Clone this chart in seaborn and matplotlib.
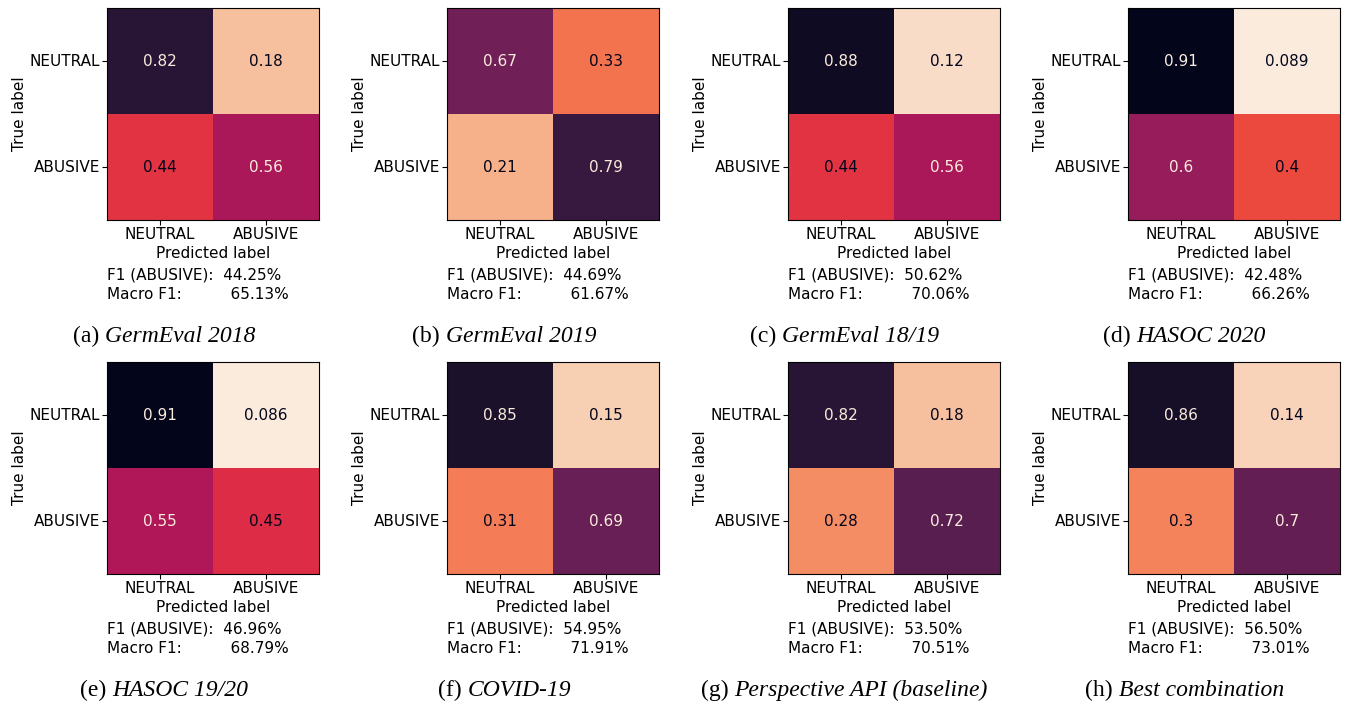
import numpy as np
import matplotlib
matplotlib.use("Agg")
import matplotlib.pyplot as plt
import seaborn as sns

# class labels (rows = true, columns = predicted)
classes = ["NEUTRAL", "ABUSIVE"]

# row-normalised confusion matrices, one per dataset
germeval_2018 = [[0.82, 0.18], [0.44, 0.56]]
germeval_2019 = [[0.67, 0.33], [0.21, 0.79]]
germeval_1819 = [[0.88, 0.12], [0.44, 0.56]]
hasoc_2020 = [[0.91, 0.089], [0.6, 0.4]]
hasoc_1920 = [[0.91, 0.086], [0.55, 0.45]]
covid_19 = [[0.85, 0.15], [0.31, 0.69]]
perspective_api = [[0.82, 0.18], [0.28, 0.72]]
best_combination = [[0.86, 0.14], [0.3, 0.7]]

matrices = [germeval_2018, germeval_2019, germeval_1819, hasoc_2020,
            hasoc_1920, covid_19, perspective_api, best_combination]

tags = ["(a)", "(b)", "(c)", "(d)", "(e)", "(f)", "(g)", "(h)"]
names = ["GermEval 2018", "GermEval 2019", "GermEval 18/19", "HASOC 2020",
         "HASOC 19/20", "COVID-19", "Perspective API (baseline)", "Best combination"]

f1_abusive = [44.25, 44.69, 50.62, 42.48, 46.96, 54.95, 53.50, 56.50]
macro_f1 = [65.13, 61.67, 70.06, 66.26, 68.79, 71.91, 70.51, 73.01]

plt.rcParams["font.family"] = ["DejaVu Sans"]

W, H = 1346, 703
fig = plt.figure(figsize=(W / 100, H / 100), dpi=100)

cmap = sns.color_palette("rocket_r", as_cmap=True)
light, dark = cmap(0.0), cmap(1.0)
# one colour scale shared by all panels
vmin = min(np.min(m) for m in matrices)
vmax = max(np.max(m) for m in matrices)

lefts = [107, 447, 788, 1128]
tops = [8, 362]
size = 212
caption_base = [342, 696]

renderer = fig.canvas.get_renderer()

for i, cm in enumerate(matrices):
    row, col = divmod(i, 4)
    ax = fig.add_axes([lefts[col] / W, 1 - (tops[row] + size) / H, size / W, size / H])
    sns.heatmap(np.array(cm), ax=ax, cmap=cmap, vmin=vmin, vmax=vmax, cbar=False,
                annot=True, fmt=".2g", annot_kws={"fontsize": 11},
                xticklabels=classes, yticklabels=classes)

    # light text on dark cells, dark text on light cells
    for t in ax.texts:
        t.set_color(light if float(t.get_text()) >= 0.5 else dark)

    for s in ax.spines.values():
        s.set_visible(True)
        s.set_color("black")
        s.set_linewidth(0.8)

    ax.tick_params(labelsize=11, length=3.5, width=0.8)
    ax.tick_params(axis="x", pad=1.5)
    ax.tick_params(axis="y", pad=1.5)
    plt.setp(ax.get_yticklabels(), rotation=0, va="center")
    plt.setp(ax.get_xticklabels(), rotation=0)
    ax.set_xlabel("Predicted label", fontsize=11, labelpad=3)
    ax.set_ylabel("True label", fontsize=11, labelpad=2)

    ax.text(0, -59 / size, f"F1 (ABUSIVE):  {f1_abusive[i]:.2f}%", transform=ax.transAxes,
            fontsize=11, ha="left", va="baseline")
    ax.text(0, -79 / size, f"Macro F1:          {macro_f1[i]:.2f}%", transform=ax.transAxes,
            fontsize=11, ha="left", va="baseline")

    # caption: upright tag + italic name, centred under the subfigure
    tag = fig.text(0, 0, tags[i], family="Liberation Serif", fontsize=17, va="baseline")
    nm = fig.text(0, 0, names[i], family="Liberation Serif", style="italic",
                  fontsize=17, va="baseline")
    w1 = tag.get_window_extent(renderer).width
    w2 = nm.get_window_extent(renderer).width
    gap = 0.25 * 17 * 100 / 72
    cx = 164.5 + 340 * col
    x0 = cx - (w1 + gap + w2) / 2
    yb = 1 - caption_base[row] / H
    tag.set_position((x0 / W, yb))
    nm.set_position(((x0 + w1 + gap) / W, yb))

fig.savefig("out.png", dpi=100)
